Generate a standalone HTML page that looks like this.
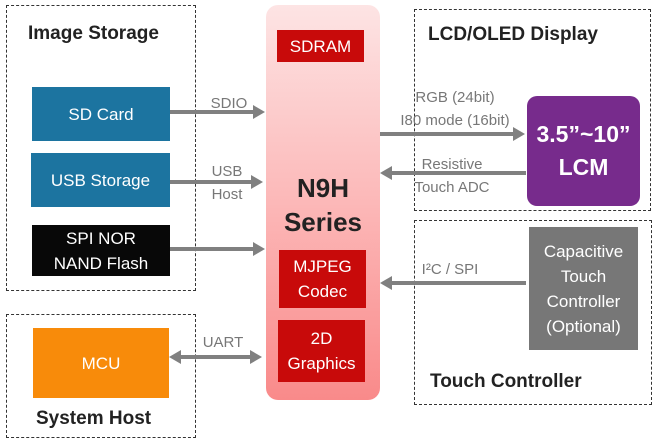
<!DOCTYPE html>
<html><head><style>
body{margin:0;width:658px;height:444px;background:#fff;position:relative;overflow:hidden;font-family:"Liberation Sans",sans-serif}
div{position:absolute;box-sizing:border-box}
.dash{border:1.3px dashed #333}
.t{font-weight:bold;font-size:19px;color:#222;white-space:nowrap}
.b{display:flex;align-items:center;justify-content:center;text-align:center;color:#fff;font-size:17px;line-height:25px}
.red{background:#c80a0a}
.lbl{color:#777;font-size:15px;line-height:23px;text-align:center;white-space:nowrap}
</style></head><body>
<div class="dash" style="left:6px;top:5px;width:190px;height:286px"></div>
<div class="t" style="left:28px;top:23px">Image Storage</div>
<div class="b" style="left:32px;top:87px;width:138px;height:54px;background:#1c74a0">SD Card</div>
<div class="b" style="left:31px;top:153px;width:139px;height:54px;background:#1c74a0">USB Storage</div>
<div class="b" style="left:32px;top:225px;width:138px;height:51px;background:#080808">SPI NOR<br>NAND Flash</div>
<div class="dash" style="left:6px;top:314px;width:190px;height:124px"></div>
<div class="b" style="left:33px;top:328px;width:136px;height:70px;background:#f88b0a">MCU</div>
<div class="t" style="left:36px;top:408px">System Host</div>

<div style="left:266px;top:5px;width:114px;height:395px;border-radius:12px;background:linear-gradient(#fde4e4,#fcb8b8 50%,#f98a8a)"></div>
<div class="b red" style="left:277px;top:30px;width:87px;height:32px">SDRAM</div>
<div class="b" style="left:266px;top:170px;width:114px;height:70px;color:#222;font-weight:bold;font-size:26px;line-height:34px">N9H<br>Series</div>
<div class="b red" style="left:279px;top:250px;width:87px;height:58px">MJPEG<br>Codec</div>
<div class="b red" style="left:278px;top:320px;width:87px;height:62px">2D<br>Graphics</div>

<div class="dash" style="left:414px;top:9px;width:237px;height:202px"></div>
<div class="t" style="left:428px;top:24px">LCD/OLED Display</div>
<div class="b" style="left:527px;top:96px;width:113px;height:110px;background:#772b8c;border-radius:10px;font-weight:bold;font-size:23px;line-height:33px">3.5”~10”<br>LCM</div>
<div class="dash" style="left:414px;top:220px;width:238px;height:185px"></div>
<div class="b" style="left:529px;top:227px;width:109px;height:123px;background:#777;font-size:17px;line-height:25px">Capacitive<br>Touch<br>Controller<br>(Optional)</div>
<div class="t" style="left:430px;top:371px">Touch Controller</div>

<svg style="position:absolute;left:0;top:0" width="658" height="444">
<g stroke="#808080" stroke-width="4" fill="#808080">
<line x1="170" y1="112" x2="255" y2="112"/><polygon points="253,105 265,112 253,119" stroke="none"/>
<line x1="170" y1="182" x2="253" y2="182"/><polygon points="251,175 263,182 251,189" stroke="none"/>
<line x1="170" y1="249" x2="255" y2="249"/><polygon points="253,242 265,249 253,256" stroke="none"/>
<line x1="179" y1="357" x2="252" y2="357"/><polygon points="250,350 262,357 250,364" stroke="none"/><polygon points="181,350 169,357 181,364" stroke="none"/>
<line x1="380" y1="134" x2="515" y2="134"/><polygon points="513,127 525,134 513,141" stroke="none"/>
<line x1="390" y1="173" x2="526" y2="173"/><polygon points="392,166 380,173 392,180" stroke="none"/>
<line x1="390" y1="283" x2="526" y2="283"/><polygon points="392,276 380,283 392,290" stroke="none"/>
</g></svg>
<div class="lbl" style="left:200px;top:92px;width:58px">SDIO</div>
<div class="lbl" style="left:198px;top:160px;width:58px">USB<br>Host</div>
<div class="lbl" style="left:194px;top:331px;width:58px">UART</div>
<div class="lbl" style="left:385px;top:86px;width:140px">RGB (24bit)<br>I80 mode (16bit)</div>
<div class="lbl" style="left:392px;top:153px;width:120px">Resistive<br>Touch ADC</div>
<div class="lbl" style="left:405px;top:258px;width:90px">I²C / SPI</div>
</body></html>
